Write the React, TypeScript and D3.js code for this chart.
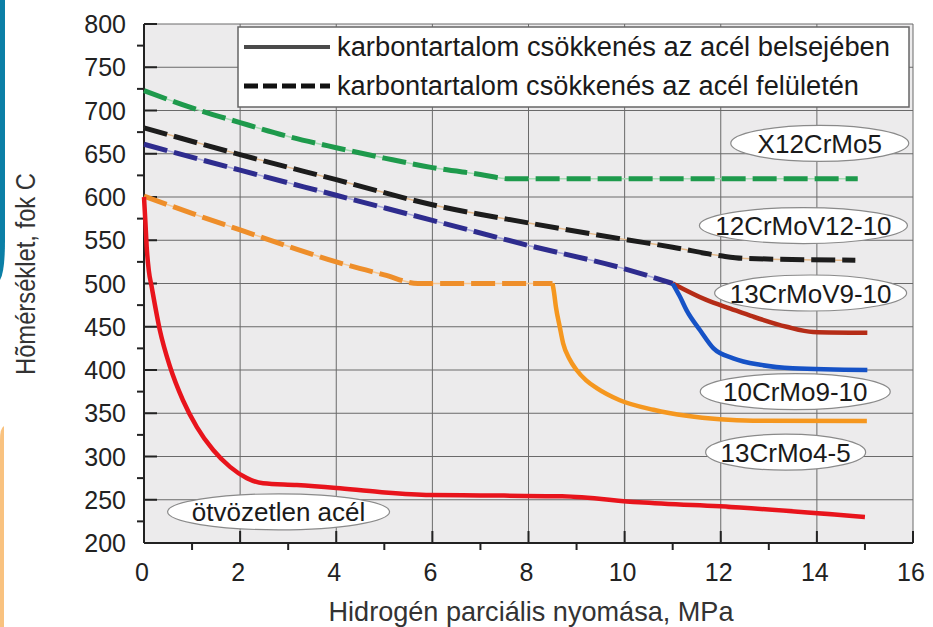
import * as d3 from "d3";

// readings: [pressure MPa, temperature °C]
const xTicks = [0, 2, 4, 6, 8, 10, 12, 14, 16];
const yTicks = [200, 250, 300, 350, 400, 450, 500, 550, 600, 650, 700, 750, 800];

const x12CrMo5: [number, number][] = [
  [0, 723], [1, 703], [2, 686], [3, 670], [4, 657], [5, 645], [6, 634], [7, 626], [7.6, 621], [10, 621], [14.85, 621],
];
const crMoV1210: [number, number][] = [
  [0, 680], [2, 649], [4, 620], [6, 591], [8, 570], [10, 551], [11, 542], [12, 532], [12.5, 529], [14.8, 527],
];
const crMoV910Dash: [number, number][] = [
  [0, 661], [2, 631], [4, 602], [6, 573], [8, 544], [10, 517], [11, 500],
];
const crMoV910Solid: [number, number][] = [
  [11, 500], [11.7, 481], [12.2, 471], [12.68, 461.6], [13.37, 450], [13.92, 444], [15.05, 443],
];
const crMo910: [number, number][] = [
  [11, 500], [11.15, 485], [11.29, 469], [11.57, 446], [11.85, 425], [12.26, 413.5], [12.82, 406], [13.5, 402], [15.05, 400],
];
const crMo45Dash: [number, number][] = [
  [0, 601], [1, 581], [2, 562], [3, 543], [4, 525], [5, 510], [5.7, 500], [7, 500], [8.5, 500],
];
const crMo45Solid: [number, number][] = [
  [8.5, 500], [8.53, 490], [8.57, 473], [8.65, 450], [8.72, 431], [8.85, 413], [9.0, 400], [9.2, 388], [9.42, 379],
  [9.9, 365], [10.6, 354], [11.29, 347], [11.98, 343], [12.67, 341.4], [15.04, 341],
];
const unalloyed: [number, number][] = [
  [0, 600], [0.03, 570], [0.056, 542], [0.1, 515], [0.16, 496], [0.33, 446], [0.54, 404], [0.81, 365],
  [1.1, 334], [1.44, 307.5], [1.79, 288], [2.14, 275], [2.48, 269], [3.18, 267], [4, 263.6], [4.9, 259],
  [5.95, 255.5], [7, 255], [8.7, 254], [10.3, 247], [12.4, 241], [15, 230],
];

const legendLabels = [
  "karbontartalom csökkenés az acél belsejében",
  "karbontartalom csökkenés az acél felületén",
];
const steelLabels = ["X12CrMo5", "12CrMoV12-10", "13CrMoV9-10", "10CrMo9-10", "13CrMo4-5", "ötvözetlen acél"];
// label anchor in data units
const steelAnchors: [number, number][] = [
  [14.06, 662], [13.72, 567], [13.87, 489], [13.55, 375], [13.35, 305], [2.8, 236],
];
const ellipseRx = [89, 104, 96, 95, 80, 111];

const W = 933;
const H = 627;
const font = "'Liberation Sans', Arial, Helvetica, sans-serif";

export default function App() {
  const x = d3.scaleLinear().domain([0, 16]).range([144, 913]);
  const y = d3.scaleLinear().domain([200, 800]).range([543, 24]);

  const line = d3
    .line<[number, number]>()
    .x((d) => x(d[0]))
    .y((d) => y(d[1]))
    .curve(d3.curveMonotoneX);

  const dashed = [
    { data: x12CrMo5, color: "#1e9a4c", under: "#a6dcb4" },
    { data: crMoV1210, color: "#1c1c1c", under: "#e4b98a" },
    { data: crMoV910Dash, color: "#2e2c8e", under: "#a9a8dc" },
    { data: crMo45Dash, color: "#ee8e2a", under: "#f7c894" },
  ];
  const solid = [
    { data: crMoV910Solid, color: "#b52c17" },
    { data: crMo910, color: "#1652c6" },
    { data: crMo45Solid, color: "#f5971f" },
    { data: unalloyed, color: "#e8141c" },
  ];

  const minorY = d3.range(225, 800, 50);
  const minorX = d3.range(1, 16, 2);

  return (
    <div style={{ position: "fixed", left: 0, top: 0, width: W, height: H, background: "#fff" }}>
      <svg width={W} height={H} style={{ display: "block" }} fontFamily={font}>
        {/* slide leftovers at the left edge */}
        <path d="M0,0 H5 V240 Q5,272 0,280 Z" fill="#0b7fa6" />
        <path d="M0,627 V440 Q0,428 4,426 V627 Z" fill="#f9c27f" />

        <rect x={x(0)} y={y(800)} width={x(16) - x(0)} height={y(200) - y(800)} fill="#ecebec" />

        {yTicks.map((t) => (
          <line key={"gy" + t} x1={x(0)} x2={x(16)} y1={y(t)} y2={y(t)} stroke="#6a6a6a" strokeWidth={1} />
        ))}
        {xTicks.map((t) => (
          <line key={"gx" + t} x1={x(t)} x2={x(t)} y1={y(800)} y2={y(200)} stroke="#6a6a6a" strokeWidth={1} />
        ))}

        {/* axes */}
        <line x1={x(0)} x2={x(0)} y1={y(800)} y2={y(200)} stroke="#222" strokeWidth={2} />
        <line x1={x(0)} x2={x(16)} y1={y(200)} y2={y(200)} stroke="#222" strokeWidth={2} />
        {yTicks.map((t) => (
          <line key={"ty" + t} x1={x(0)} x2={x(0) + 13} y1={y(t)} y2={y(t)} stroke="#222" strokeWidth={2} />
        ))}
        {minorY.map((t) => (
          <line key={"my" + t} x1={x(0) - 7} x2={x(0)} y1={y(t)} y2={y(t)} stroke="#222" strokeWidth={2} />
        ))}
        {xTicks.map((t) => (
          <line key={"tx" + t} x1={x(t)} x2={x(t)} y1={y(200)} y2={y(200) - 12} stroke="#222" strokeWidth={2} />
        ))}
        {minorX.map((t) => (
          <line key={"mx" + t} x1={x(t)} x2={x(t)} y1={y(200)} y2={y(200) + 7} stroke="#222" strokeWidth={2} />
        ))}

        {yTicks.map((t) => (
          <text key={"ly" + t} x={126} y={y(t) + 9} fontSize={25} textAnchor="end" fill="#222">
            {t}
          </text>
        ))}
        {xTicks.map((t) => (
          <text key={"lx" + t} x={x(t) - 2} y={581} fontSize={25} textAnchor="middle" fill="#222">
            {t}
          </text>
        ))}

        <text x={531} y={621} fontSize={28} textAnchor="middle" fill="#333" textLength={405} lengthAdjust="spacingAndGlyphs">
          Hidrogén parciális nyomása, MPa
        </text>
        <text transform="translate(35,274) rotate(-90)" fontSize={27} textAnchor="middle" fill="#333" textLength={202} lengthAdjust="spacingAndGlyphs">
          Hõmérséklet, fok C
        </text>

        {/* legend */}
        <rect x={238} y={27} width={671} height={80} fill="#fff" stroke="#666" strokeWidth={1.5} />
        <line x1={244} x2={330} y1={47} y2={47} stroke="#4a4a4a" strokeWidth={4} />
        <line x1={244} x2={330} y1={86} y2={86} stroke="#111" strokeWidth={5} strokeDasharray="14 5" />
        {legendLabels.map((l, i) => (
          <text key={l} x={337} y={56 + i * 39} fontSize={27} fill="#1a1a1a" textLength={i === 0 ? 553 : 522} lengthAdjust="spacingAndGlyphs">
            {l}
          </text>
        ))}

        {/* curves */}
        {dashed.map((s, i) => (
          <g key={"d" + i}>
            <path d={line(s.data) ?? ""} fill="none" stroke={s.under} strokeWidth={1.5} />
            <path d={line(s.data) ?? ""} fill="none" stroke={s.color} strokeWidth={5} strokeDasharray="24 7" />
          </g>
        ))}
        {solid.map((s, i) => (
          <path key={"s" + i} d={line(s.data) ?? ""} fill="none" stroke={s.color} strokeWidth={4.5} strokeLinejoin="round" />
        ))}

        {/* steel labels */}
        {steelLabels.map((l, i) => {
          const cx = x(steelAnchors[i][0]);
          const cy = y(steelAnchors[i][1]);
          return (
            <g key={l}>
              <ellipse cx={cx} cy={cy} rx={ellipseRx[i]} ry={18} fill="#fff" stroke="#8a8a8a" strokeWidth={1.2} />
              <text x={cx} y={cy + 9.5} fontSize={26} textAnchor="middle" fill="#1a1a1a">
                {l}
              </text>
            </g>
          );
        })}
      </svg>
    </div>
  );
}
